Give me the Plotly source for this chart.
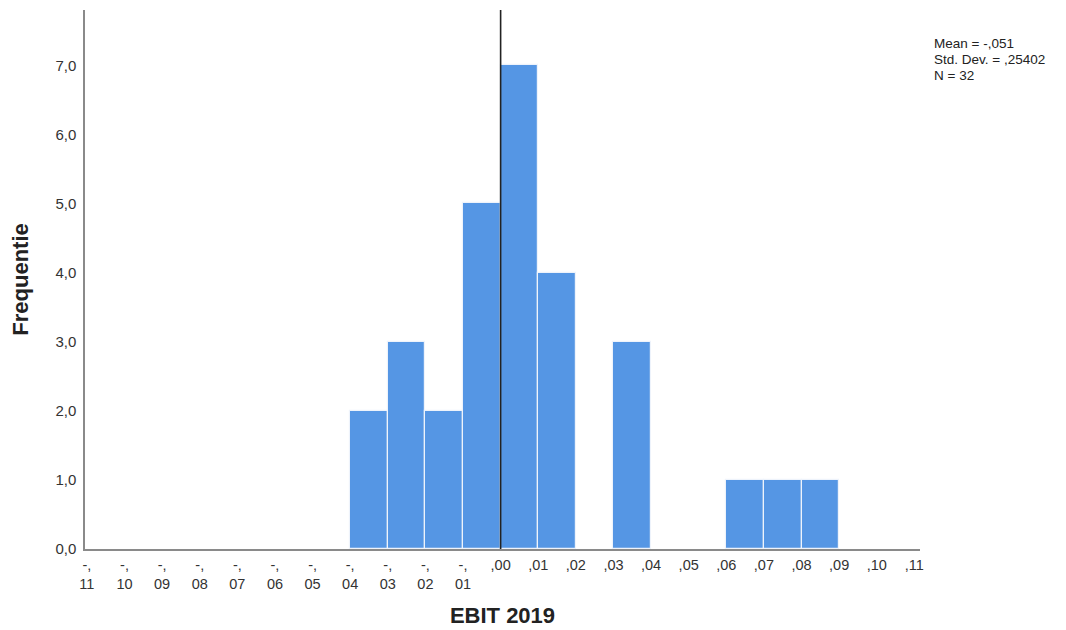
import plotly.graph_objects as go

# Data
bin_starts = [-0.04, -0.03, -0.02, -0.01, 0.00, 0.01, 0.03, 0.06, 0.07, 0.08]
counts = [2, 3, 2, 5, 7, 4, 3, 1, 1, 1]
bin_width = 0.01
tick_vals = [round(-0.11 + 0.01 * i, 2) for i in range(23)]
tick_text = ["-,<br>%02d" % round(abs(v) * 100) if v < 0 else ",%02d" % round(v * 100) for v in tick_vals]
y_ticks = [0, 1, 2, 3, 4, 5, 6, 7]
y_tick_text = ["0,0", "1,0", "2,0", "3,0", "4,0", "5,0", "6,0", "7,0"]
stats_lines = ["Mean = -,051", "Std. Dev. = ,25402", "N = 32"]

centers = [s + bin_width / 2 for s in bin_starts]

fig = go.Figure()
fig.add_trace(go.Bar(
    x=centers, y=counts, width=[bin_width] * len(counts),
    marker=dict(color="#5596e4", line=dict(color="#eef3fb", width=1.2)),
    hoverinfo="x+y", showlegend=False,
))

fig.add_shape(type="line", xref="x", yref="paper", x0=0, x1=0, y0=0, y1=1,
              line=dict(color="#222222", width=1.6))

plot_h = 539.0
for i, line in enumerate(stats_lines):
    y_px = 44 + 15.5 * i  # line centre, page pixels
    fig.add_annotation(xref="paper", yref="paper", x=1.0144, y=1 - (y_px - 10) / plot_h,
                       xanchor="left", yanchor="middle", align="left",
                       text=line, showarrow=False,
                       font=dict(family="Liberation Sans, Arial", size=13.5, color="#222"))

fig.update_layout(
    width=1066, height=630,
    margin=dict(l=77, r=154, t=2, b=89),
    paper_bgcolor="white", plot_bgcolor="white",
    font=dict(family="Liberation Sans, Arial", size=15, color="#333"),
    bargap=0,
    xaxis=dict(range=[-0.1105, 0.1115], tickmode="array", tickvals=tick_vals,
               ticktext=tick_text, showgrid=False, zeroline=False, automargin=False,
               showline=True, linecolor="#8a8a8a", linewidth=1.5,
               ticks="", ticklabelstandoff=2, tickfont=dict(size=14.5, color="#333"),
               title=dict(text="<b>EBIT 2019</b>", font=dict(size=22, color="#222"), standoff=17)),
    yaxis=dict(range=[0, 7.8], tickmode="array", tickvals=y_ticks,
               ticktext=y_tick_text, showgrid=False, zeroline=False, automargin=False,
               showline=True, linecolor="#8a8a8a", linewidth=1.5,
               ticks="", ticklen=0, ticklabelstandoff=4, tickfont=dict(size=15, color="#333"),
               title=dict(text="<b>Frequentie</b>", font=dict(size=22, color="#222"), standoff=22)),
)

fig.write_html("out.html")
